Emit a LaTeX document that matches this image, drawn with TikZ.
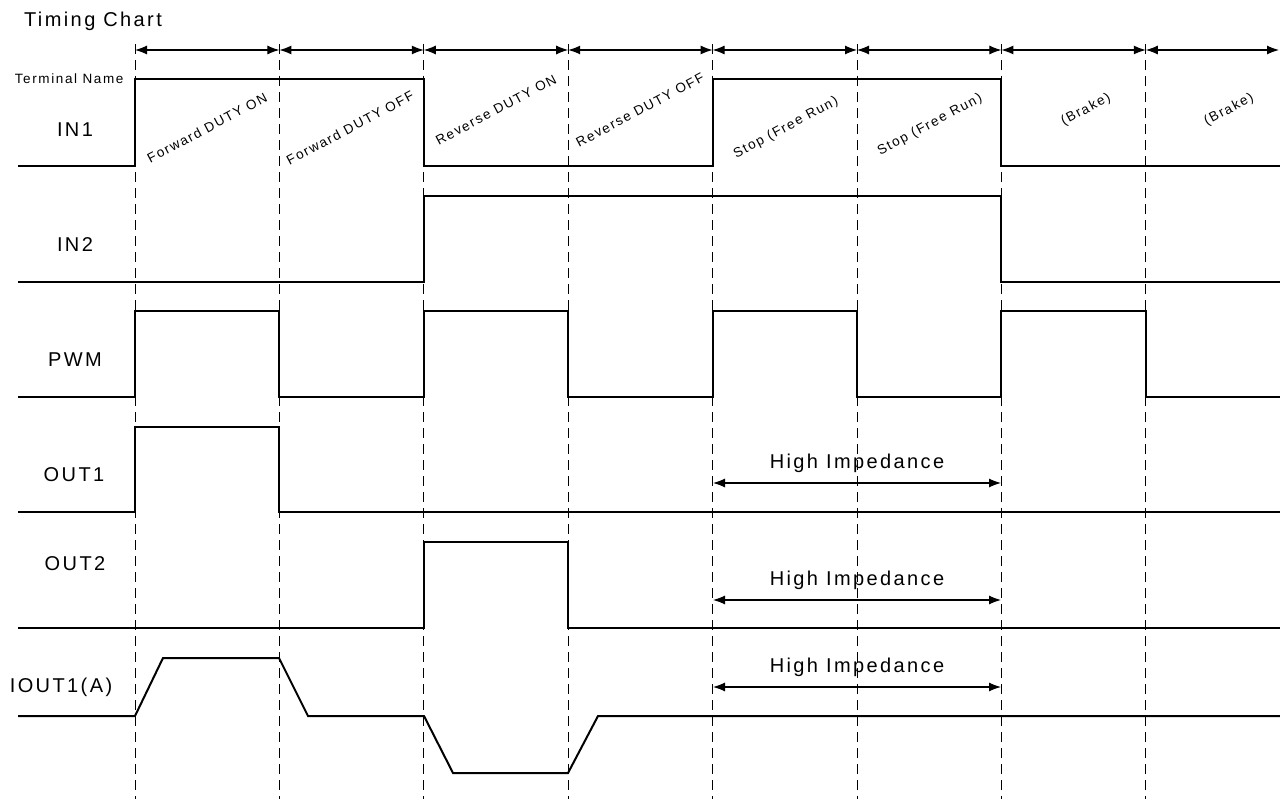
\documentclass[tikz,border=0pt]{standalone}
\usepackage{fontspec}
\setmainfont{Liberation Sans}[LetterSpace=12]
\usetikzlibrary{arrows.meta}

\begin{document}
\begin{tikzpicture}[x=1pt,y=-1pt,
  sig/.style={line width=2pt},
  guide/.style={line width=0.9pt, dash pattern=on 10pt off 6pt},
  span/.style={line width=1.1pt, {Latex[length=12pt,width=9pt]}-{Latex[length=12pt,width=9pt]}},
  lbl/.style={font=\fontsize{20}{22}\selectfont},
  tag/.style={font=\fontsize{13.5}{15}\selectfont, rotate=28}]
\useasboundingbox (0,0) rectangle (1280,799);

% time marks
\foreach \i in {0,...,7}{
       \coordinate (t\i) at (135+\i*144.4, 50);
       \draw[guide] (135+\i*144.4, 44) -- (135+\i*144.4, 799);
}
\coordinate (t8) at (1279, 50);
\foreach \i [count=\j] in {0,...,7}{
       \draw[span] (t\i) -- (t\j);
}

\node[lbl] (title) at (93, 21) {Timing Chart};
\node[anchor=east, font=\fontsize{13.5}{15}\selectfont] (term) at (127, 79) {Terminal Name};

% terminal names
\node[lbl] (in1) at (75, 130) {IN1};
\node[lbl] (in2) at (75, 245) {IN2};
\node[lbl] (pwm) at (75, 360) {PWM};
\node[lbl] (out1) at (74, 475) {OUT1};
\node[lbl] (out2) at (75, 564) {OUT2};
\node[lbl] (iout) at (61, 687) {IOUT1(A)};

% mode names
\foreach \x/\y/\t [count=\k] in {207/128/Forward DUTY ON, 350/128/Forward DUTY OFF,
       496/110/Reverse DUTY ON, 640/110/Reverse DUTY OFF, 786/128/Stop (Free Run),
       930/125/Stop (Free Run), 1086/110/(Brake), 1229/110/(Brake)}{
       \node[tag] (mode\k) at (\x, \y) {\t};
}

% signals
\draw[sig] (18,166) -- (135,166) -- (135,79) -- (424,79) -- (424,166) -- (713,166)
       -- (713,79) -- (1001,79) -- (1001,166) -- (1280,166);
\draw[sig] (18,282) -- (424,282) -- (424,196) -- (1001,196) -- (1001,282) -- (1280,282);
\draw[sig] (18,397) -- (135,397) -- (135,311) -- (279,311) -- (279,397) -- (424,397)
       -- (424,311) -- (568,311) -- (568,397) -- (713,397) -- (713,311) -- (857,311)
       -- (857,397) -- (1001,397) -- (1001,311) -- (1146,311) -- (1146,397) -- (1280,397);
\draw[sig] (18,512) -- (135,512) -- (135,427) -- (279,427) -- (279,512) -- (1280,512);
\draw[sig] (18,628) -- (424,628) -- (424,542) -- (568,542) -- (568,628) -- (1280,628);
\draw[sig] (18,716) -- (135,716) -- (163,658) -- (279,658) -- (308,716) -- (424,716)
       -- (453,773) -- (568,773) -- (598,716) -- (1280,716);

% high impedance
\foreach \y/\n in {483/a, 600/b, 687/c}{
       \coordinate (hz\n1) at (713, \y);
       \coordinate (hz\n2) at (1001, \y);
       \draw[span] (hz\n1) -- (hz\n2);
       \node[lbl] (hz\n) at (857, \y-20) {High Impedance};
}

\end{tikzpicture}
\end{document}
